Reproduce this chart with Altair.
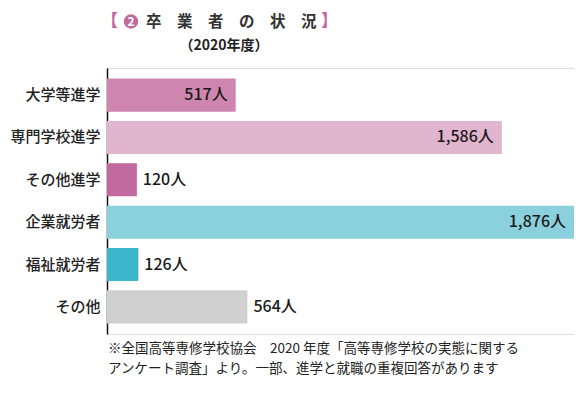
import altair as alt
import pandas as pd

categories = ["大学等進学", "専門学校進学", "その他進学", "企業就労者", "福祉就労者", "その他"]
values = [517, 1586, 120, 1876, 126, 564]
colors = ["#CE86AF", "#E0B5CD", "#C26A9F", "#8BD0DD", "#3BB6CB", "#D0D0D0"]
label_inside = [True, True, False, True, False, False]

title_text = "卒　業　者　の　状　況"
subtitle_text = "（2020年度）"
note_line1 = "※全国高等専修学校協会　2020 年度「高等専修学校の実態に関する"
note_line2 = "アンケート調査」より。一部、進学と就職の重複回答があります"

FONT = "Noto Sans CJK JP"
PINK = "#C3699E"

df = pd.DataFrame({
    "cat": categories,
    "value": values,
    "color": colors,
    "inside": label_inside,
})
df["label"] = [f"{v:,}人" for v in values]

y_enc = alt.Y("cat:N", sort=categories,
              scale=alt.Scale(paddingInner=0.22, paddingOuter=0.25),
              axis=alt.Axis(title=None, ticks=False, domain=True, domainColor="#111",
                            domainWidth=1.5, labelFont=FONT, labelFontSize=15,
                            labelFontWeight=500,
                            labelColor="#222", labelPadding=7, grid=False))
x_enc = alt.X("value:Q", scale=alt.Scale(domain=[0, 1876], nice=False, zero=True),
              axis=None)

base = alt.Chart(df)
bars = base.mark_bar().encode(
    x=x_enc, y=y_enc,
    color=alt.Color("color:N", scale=None, legend=None),
)
lab_in = base.transform_filter("datum.inside").mark_text(
    align="right", baseline="middle", dx=-8, font=FONT, fontSize=16, fontWeight=500, color="#1a1a1a"
).encode(x=x_enc, y=y_enc, text="label:N")
lab_out = base.transform_filter("!datum.inside").mark_text(
    align="left", baseline="middle", dx=6, font=FONT, fontSize=16, fontWeight=500, color="#1a1a1a"
).encode(x=x_enc, y=y_enc, text="label:N")

one = alt.Data(values=[{"a": 1}])

def txt(text, x, y, **kw):
    return alt.Chart(one).mark_text(font=FONT, baseline="middle", **kw).encode(
        x=alt.value(x), y=alt.value(y), text=alt.value(text))

circle = alt.Chart(one).mark_point(filled=True, shape="circle", size=210, color=PINK, opacity=1).encode(
    x=alt.value(24), y=alt.value(-46.5))
num = txt("2", 24, -46.5, align="center", fontSize=12, fontWeight="bold", color="white")
lb = txt("【", 11, -46.5, align="right", fontSize=17, fontWeight="bold", color=PINK)
rb = txt("】", 214, -46.5, align="left", fontSize=17, fontWeight="bold", color=PINK)
title = txt(title_text, 39, -46.5, align="left", fontSize=15.5, fontWeight="bold", color="#333")
subtitle = txt(subtitle_text, 117, -22, align="center", fontSize=14, fontWeight="bold", color="#222")
note1 = txt(note_line1, 1, 281, align="left", fontSize=13.5, color="#222")
note2 = txt(note_line2, 1, 301, align="left", fontSize=13.5, color="#222")

chart = alt.layer(bars, lab_in, lab_out, circle, num, lb, rb, title, subtitle, note1, note2).properties(
    width=467, height=266,
    autosize=alt.AutoSizeParams(type="none"),
    padding={"left": 99, "top": 60, "right": 0, "bottom": 46},
).configure_view(stroke=None).configure(background="white")

chart.save("out.html", embed_options={"renderer": "svg", "actions": False})
